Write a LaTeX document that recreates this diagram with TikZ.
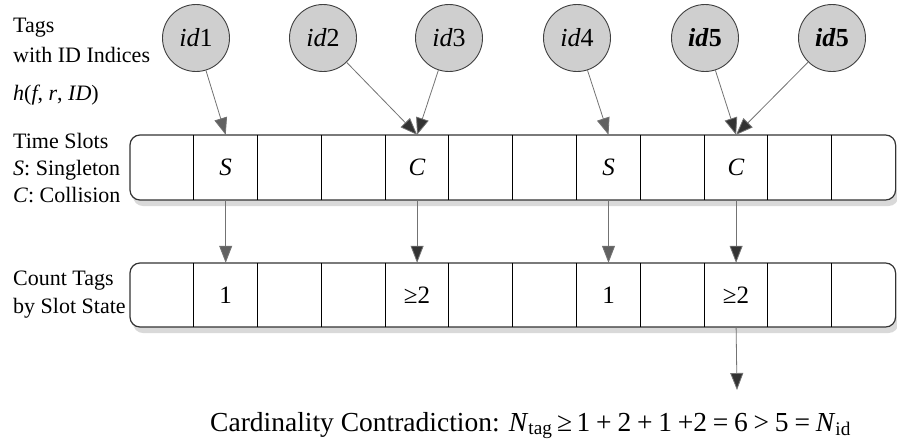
\documentclass[tikz,border=0pt]{standalone}
\usepackage{fontspec}
\setmainfont{Liberation Serif}
\usetikzlibrary{arrows.meta,shadows}

\newcommand{\lblfont}{\fontsize{22}{28}\selectfont}
\newcommand{\cellfont}{\fontsize{25}{28}\selectfont}

\tikzset{
  tag/.style={circle,draw=black!75,line width=0.9pt,fill=black!19,minimum size=67pt,inner sep=0pt,font=\fontsize{26}{28}\selectfont},
  cell/.style={rectangle,minimum width=63.8pt,minimum height=65pt,inner sep=0pt,font=\cellfont},
  slotrow/.style={draw=black!80,line width=1.2pt,fill=white,rounded corners=10pt,
    drop shadow={shadow xshift=3pt,shadow yshift=-6pt,fill=black!15,opacity=1}},
  divider/.style={draw=black,line width=0.9pt},
  sarrow/.style={draw=black!55,line width=0.8pt,-{Triangle[length=17pt,width=13pt,fill=black!62]}},
  carrow/.style={draw=black!55,line width=0.8pt,-{Triangle[length=17pt,width=13pt,fill=black!80]}},
  lbl/.style={anchor=base west,align=left,inner sep=0pt,font=\lblfont}
}

\begin{document}
\begin{tikzpicture}[x=1pt,y=-1pt]
  \useasboundingbox (0,0) rectangle (897,440);

  % tags
  \node[tag] (id1) at (196,38) {\textit{id}1};
  \node[tag] (id2) at (323,38) {\textit{id}2};
  \node[tag] (id3) at (449,38) {\textit{id}3};
  \node[tag] (id4) at (577,38) {\textit{id}4};
  \node[tag] (id5a) at (705,38) {\textbf{\textit{id}5}};
  \node[tag] (id5b) at (832,38) {\textbf{\textit{id}5}};

  % first row: time slots
  \draw[slotrow] (130,135) rectangle (895.6,200);
  \foreach \i/\txt in {1/{},2/\textit{S},3/{},4/{},5/\textit{C},6/{},7/{},8/\textit{S},9/{},10/\textit{C},11/{},12/{}}
    \node[cell] (t\i) at ({130+63.8*(\i-0.5)},167.5) {\txt};
  \foreach \i in {2,...,12}
    \draw[divider] (t\i.north west) -- (t\i.south west);

  % second row: counted tags
  \draw[slotrow] (130,263) rectangle (895.6,327);
  \foreach \i/\txt in {1/{},2/1,3/{},4/{},5/{≥2},6/{},7/{},8/1,9/{},10/{≥2},11/{},12/{}}
    \node[cell,minimum height=64pt] (n\i) at ({130+63.8*(\i-0.5)},295) {\txt};
  \foreach \i in {2,...,12}
    \draw[divider] (n\i.north west) -- (n\i.south west);

  % hashing tags into slots
  \draw[sarrow] (id1) -- (t2.north);
  \draw[carrow] (id2) -- (t5.north);
  \draw[carrow] (id3) -- (t5.north);
  \draw[sarrow] (id4) -- (t8.north);
  \draw[carrow] (id5a) -- (t10.north);
  \draw[carrow] (id5b) -- (t10.north);

  % slot states to counts
  \draw[sarrow] (t2.south) -- (n2.north);
  \draw[carrow] (t5.south) -- (n5.north);
  \draw[sarrow] (t8.south) -- (n8.north);
  \draw[carrow] (t10.south) -- (n10.north);

  \coordinate (sum) at (737,390);
  \draw[carrow] (n10.south) -- (sum);

  % labels on the left (base = last line)
  \node[lbl,font=\fontsize{22}{30}\selectfont] (taglbl) at (13,62) {Tags\\with ID Indices};
  \node[lbl] (hashlbl) at (13,100) {\textit{h}(\textit{f}, \textit{r}, \textit{ID})};
  \node[lbl,font=\fontsize{22}{27}\selectfont] (slotlbl) at (13,202) {Time Slots\\\textit{S}: Singleton\\\textit{C}: Collision};
  \node[lbl] (countlbl) at (13,313) {Count Tags\\by Slot State};

  % result
  \node[anchor=base west,inner sep=0pt,font=\fontsize{27.5}{30}\selectfont] (result) at (210,431)
    {Cardinality Contradiction: {\spaceskip=0.21em\textit{N}\textsubscript{tag}\,≥\,1 + 2 + 1 +2 = 6 > 5 = \textit{N}\textsubscript{id}}};
\end{tikzpicture}
\end{document}
